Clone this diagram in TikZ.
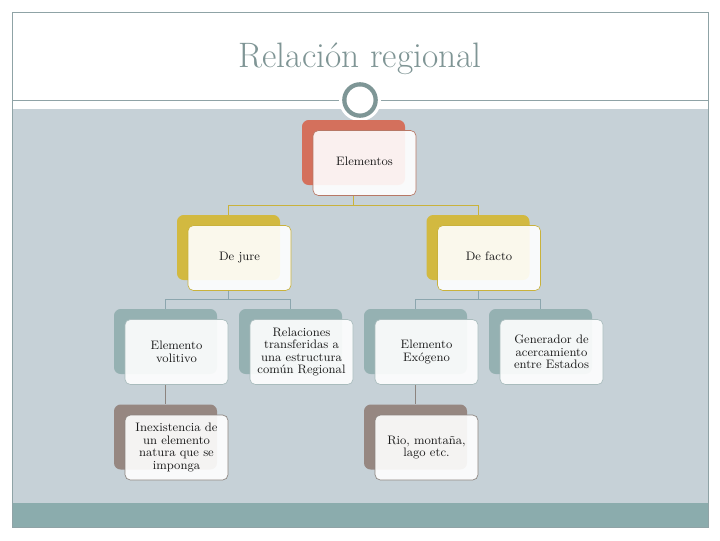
\documentclass[tikz,border=0pt]{standalone}
\usepackage{xcolor}
\usetikzlibrary{calc, positioning}
\definecolor{cslide}{HTML}{C6D1D7}
\definecolor{cband}{HTML}{8BACAD}
\definecolor{cframe}{HTML}{8FA3A6}
\definecolor{ctitle}{HTML}{7F9595}
\definecolor{cring}{HTML}{7E9696}
\definecolor{cred}{HTML}{D4705C}
\definecolor{credline}{HTML}{B77866}
\definecolor{cgold}{HTML}{D2B940}
\definecolor{cgoldline}{HTML}{C9B23C}
\definecolor{cteal}{HTML}{95B1B2}
\definecolor{ctealline}{HTML}{A9BCBD}
\definecolor{cblue}{HTML}{8CA6AE}
\definecolor{ctaupe}{HTML}{968781}
\definecolor{ctaupeline}{HTML}{8C847F}
\definecolor{cbk}{HTML}{1A1A1A}

\begin{document}
\begin{tikzpicture}[x=0.75pt, y=-0.75pt,
    back/.style={rectangle, rounded corners=5pt, fill=#1, minimum width=77.25pt, minimum height=48.75pt, inner sep=0pt},
    front/.style={rectangle, rounded corners=4pt, draw=#1, line width=0.5pt, fill=white, fill opacity=0.9, text opacity=1, minimum width=77.25pt, minimum height=48.75pt, inner sep=1pt, align=center, text=cbk, font=\fontsize{9.2}{9.4}\selectfont},
    bus/.style={draw=#1, line width=0.7pt}]
    \useasboundingbox (0,0) rectangle (720,540);
    % slide
    \fill[white] (0,0) rectangle (720,540);
    \fill[cslide] (12,109) rectangle (708,503);
    \fill[cband] (12,503) rectangle (708,527);
    \draw[cframe, line width=0.6pt] (12,12) rectangle (708,527);
    \draw[cframe, line width=0.6pt] (12,100) -- (708,100);
    \node (title) [anchor=base, font=\fontsize{26.5}{30}\selectfont, text=ctitle] at (360,67) {Relación regional};
    \node (ring) [circle, draw=cring, line width=3.2pt, fill=white, minimum size=23.5pt, preaction={draw=white, line width=8pt}] at (360,100) {};
    % level 1
    \node (eb) [back=cred] at (353.5,152.5) {};
    \node (ef) [front=credline] at ($(eb)+(11,10.5)$) {\strut Elementos};
    % level 2
    \node (jb) [back=cgold] at (228.5,247.5) {};
    \node (jf) [front=cgoldline] at ($(jb)+(11,10.5)$) {\strut De jure};
    \node (fb) [back=cgold] at (478,247.5) {};
    \node (ff) [front=cgoldline] at ($(fb)+(11,10.5)$) {\strut De facto};
    % level 3
    \node (vb) [back=cteal] at (165.5,341.5) {};
    \node (vf) [front=ctealline] at ($(vb)+(11,10.5)$) {Elemento\\volitivo};
    \node (rb) [back=cteal] at (290.5,341.5) {};
    \node (rf) [front=ctealline] at ($(rb)+(11,10.5)$) {Relaciones\\transferidas a\\una estructura\\común Regional};
    \node (xb) [back=cteal] at (415.5,341.5) {};
    \node (xf) [front=ctealline] at ($(xb)+(11,10.5)$) {Elemento\\Exógeno};
    \node (gb) [back=cteal] at (540.5,341.5) {};
    \node (gf) [front=ctealline] at ($(gb)+(11,10.5)$) {Generador de\\acercamiento\\entre Estados};
    % level 4
    \node (ib) [back=ctaupe] at (165.5,437) {};
    \node (if) [front=ctaupeline] at ($(ib)+(11,10.5)$) {Inexistencia de\\un elemento\\natura que se\\imponga};
    \node (ob) [back=ctaupe] at (415.5,437) {};
    \node (of) [front=ctaupeline] at ($(ob)+(11,10.5)$) {Rio, montaña,\\lago etc.};
    % connectors
    \foreach \c in {jb,fb} \draw[bus=cgoldline] (eb |- ef.south) |- ([yshift=7pt]\c.north) -- (\c.north);
    \foreach \c in {vb,rb} \draw[bus=cblue] (jb |- jf.south) |- ([yshift=7pt]\c.north) -- (\c.north);
    \foreach \c in {xb,gb} \draw[bus=cblue] (fb |- ff.south) |- ([yshift=7pt]\c.north) -- (\c.north);
    \draw[bus=ctaupeline] (vb |- vf.south) -- (ib.north);
    \draw[bus=ctaupeline] (xb |- xf.south) -- (ob.north);
\end{tikzpicture}
\end{document}
